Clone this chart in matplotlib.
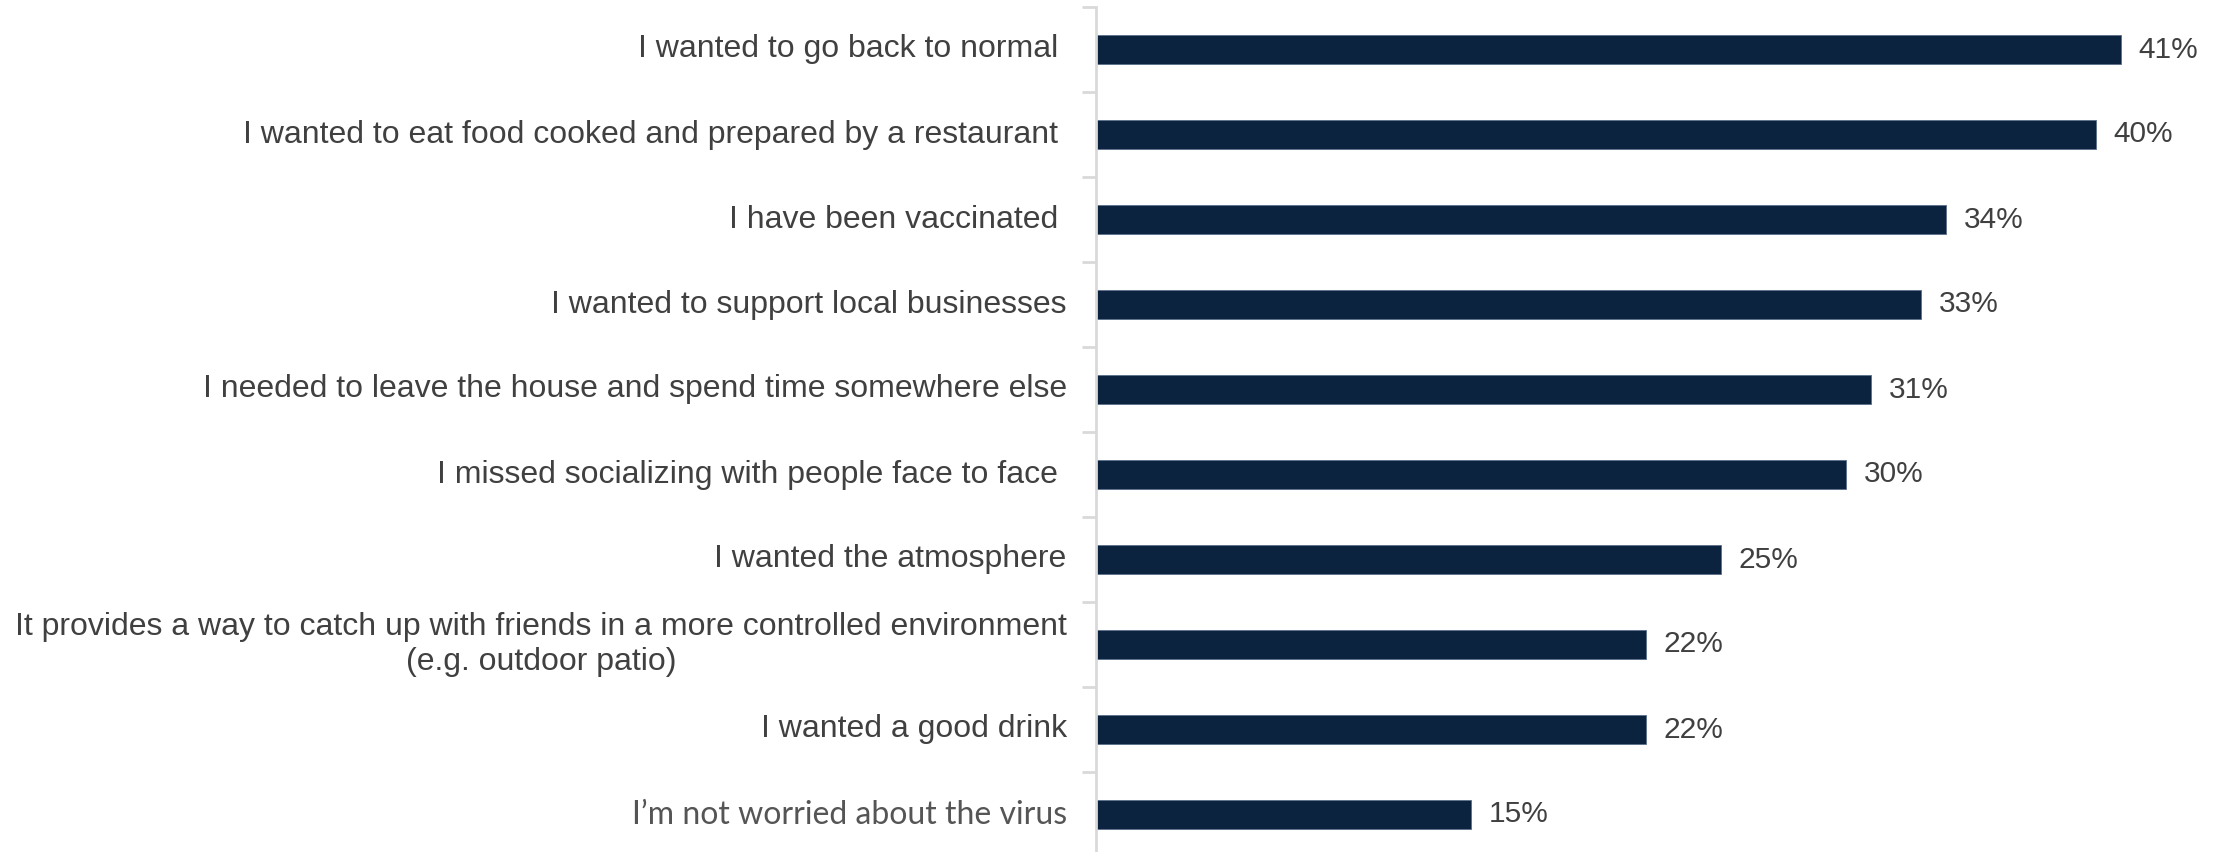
import matplotlib.pyplot as plt
import numpy as np

# ---------------- DATA ----------------
reasons = [
    "I wanted to go back to normal ",
    "I wanted to eat food cooked and prepared by a restaurant ",
    "I have been vaccinated ",
    "I wanted to support local businesses",
    "I needed to leave the house and spend time somewhere else",
    "I missed socializing with people face to face ",
    "I wanted the atmosphere",
    "It provides a way to catch up with friends in a more controlled environment\n(e.g. outdoor patio)",
    "I wanted a good drink",
    "I\u2019m not worried about the virus",
]
shares = [41, 40, 34, 33, 31, 30, 25, 22, 22, 15]

# ---------------- STYLE ----------------
BAR = "#0c2340"
TEXT = "#404040"
AXIS = "#d9d9d9"
plt.rcParams["font.family"] = ["Liberation Sans", "DejaVu Sans"]

W, H, DPI = 2221, 852, 100
fig = plt.figure(figsize=(W / DPI, H / DPI), dpi=DPI)
ax = fig.add_axes([1096 / W, -5 / H, 1 - 1096 / W, 850 / H])

y = np.arange(len(reasons))
ax.barh(y, shares, height=0.35, color=BAR, edgecolor="#5a6f8a", linewidth=0.6)
ax.set_xlim(0, 45)
ax.set_ylim(len(reasons) - 0.5, -0.5)

# value labels
for yi, v in zip(y, shares):
    ax.text(v + 0.7, yi, f"{v}%", va="center", ha="left", fontsize=21.5, color=TEXT)

# category labels
for yi, label in zip(y, reasons):
    if label.startswith("I\u2019m"):
        ax.text(-1.17, yi, label, va="center", ha="right", fontsize=23,
                color="#555555", family=["Lato", "DejaVu Sans"])
    else:
        ax.text(-1.17, yi, label, va="center", ha="right", fontsize=23,
                color=TEXT, multialignment="center", linespacing=1.2)

# axis: only the left spine and the ticks between categories
for side in ["top", "right", "bottom"]:
    ax.spines[side].set_visible(False)
ax.spines["left"].set_color(AXIS)
ax.spines["left"].set_linewidth(2)
ax.set_xticks([])
ax.set_yticks(np.arange(len(reasons) + 1) - 0.5)
ax.set_yticklabels([])
ax.tick_params(axis="y", length=10, width=2, color=AXIS)

fig.savefig("out.png", dpi=DPI, facecolor="white")
